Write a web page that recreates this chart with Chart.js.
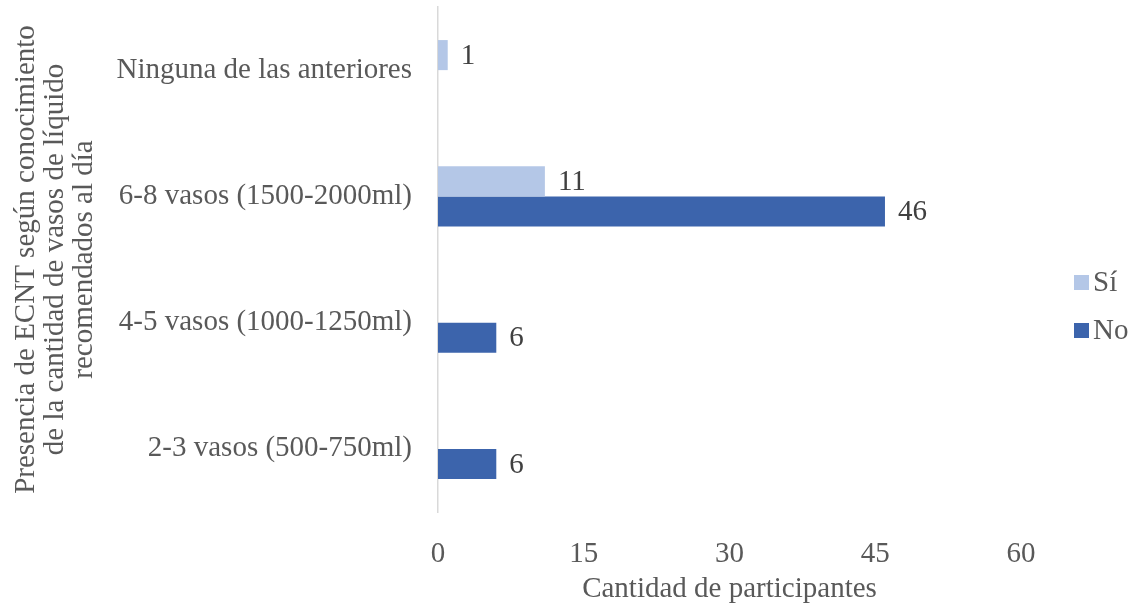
<!DOCTYPE html>
<html>
<head>
<meta charset="utf-8">
<script src="https://cdn.jsdelivr.net/npm/chart.js@4/dist/chart.umd.min.js"></script>
<style>
  html, body { margin: 0; padding: 0; background: #ffffff; }
  #wrap { width: 1135px; height: 605px; position: relative; }
</style>
</head>
<body>
<div id="wrap"><canvas id="c" width="1135" height="605"></canvas></div>
<script>
const categories = [
  "Ninguna de las anteriores",
  "6-8 vasos (1500-2000ml)",
  "4-5 vasos (1000-1250ml)",
  "2-3 vasos (500-750ml)"
];
const seriesNames = ["Sí", "No"];
const siValues = [1, 11, null, null];
const noValues = [null, 46, 6, 6];
const xTicks = [0, 15, 30, 45, 60];
const xTitle = "Cantidad de participantes";
const yTitle = [
  "Presencia de ECNT según conocimiento",
  "de la cantidad de vasos de líquido",
  "recomendados al día"
];

const FONT = "'Liberation Serif', 'Times New Roman', serif";
const FS = 29;
const colors = ["#B4C7E7", "#3C64AC"];

const valueLabels = {
  id: 'valueLabels',
  afterDatasetsDraw(chart) {
    const ctx = chart.ctx;
    ctx.save();
    ctx.font = FS + "px " + FONT;
    ctx.fillStyle = "#404040";
    ctx.textAlign = "left";
    ctx.textBaseline = "middle";
    chart.data.datasets.forEach((ds, di) => {
      const meta = chart.getDatasetMeta(di);
      meta.data.forEach((el, i) => {
        const v = ds.data[i];
        if (v === null || v === undefined) return;
        ctx.fillText(String(v), el.x + 13, el.y + 1);
      });
    });
    ctx.restore();
  }
};

const customLegend = {
  id: 'customLegend',
  afterDraw(chart) {
    const ctx = chart.ctx;
    ctx.save();
    ctx.font = FS + "px " + FONT;
    ctx.textAlign = "left";
    ctx.textBaseline = "middle";
    const ys = [282.5, 330.5];
    chart.data.datasets.forEach((ds, i) => {
      ctx.fillStyle = ds.backgroundColor;
      ctx.fillRect(1074, ys[i] - 7.5, 15, 15);
      ctx.fillStyle = "#595959";
      ctx.fillText(ds.label, 1093, ys[i] + 1);
    });
    ctx.restore();
  }
};

new Chart(document.getElementById('c'), {
  type: 'bar',
  data: {
    labels: categories,
    datasets: [
      { label: seriesNames[0], data: siValues, backgroundColor: colors[0],
        categoryPercentage: 0.476, barPercentage: 1.0 },
      { label: seriesNames[1], data: noValues, backgroundColor: colors[1],
        categoryPercentage: 0.476, barPercentage: 1.0 }
    ]
  },
  options: {
    indexAxis: 'y',
    responsive: false,
    animation: false,
    devicePixelRatio: 1,
    layout: { padding: { left: 0, right: 114, top: 7, bottom: 0 } },
    plugins: {
      legend: { display: false },
      tooltip: { enabled: false }
    },
    scales: {
      x: {
        min: 0, max: 60,
        afterBuildTicks(scale) { scale.ticks = xTicks.map(v => ({ value: v })); },
        afterFit(scale) { scale.height = 93; scale.paddingLeft = 0; scale.paddingRight = 0; },
        grid: { display: false, drawTicks: false },
        border: { display: false },
        ticks: { padding: 25, maxRotation: 0, color: "#595959", font: { family: FONT, size: FS } },
        title: {
          display: true, text: xTitle, color: "#595959",
          font: { family: FONT, size: FS, lineHeight: 1.0 }, padding: { top: 0, bottom: 1 }
        }
      },
      y: {
        afterFit(scale) { scale.width = 438; scale.paddingTop = 0; scale.paddingBottom = 0; },
        grid: { display: false, drawTicks: false },
        border: { display: true, color: "#D9D9D9", width: 1.5 },
        ticks: { padding: 26, color: "#595959", font: { family: FONT, size: FS } },
        title: {
          display: true, text: yTitle, color: "#595959",
          font: { family: FONT, size: FS, lineHeight: 1.0 }, padding: { top: 12, bottom: 0 }
        }
      }
    }
  },
  plugins: [valueLabels, customLegend]
});
</script>
</body>
</html>
